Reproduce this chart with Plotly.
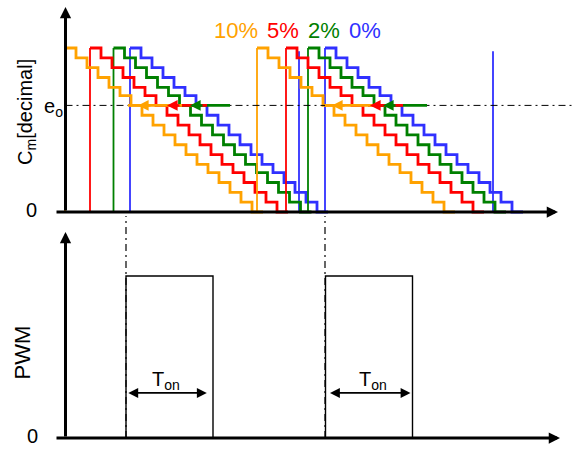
import plotly.graph_objects as go

# ---------------- data (time in arbitrary units, t = 0 at the vertical axis) ----------------
LEVELS = [1.00, 0.94, 0.88, 0.82, 0.76, 0.71, 0.65, 0.59, 0.53, 0.47,
          0.41, 0.35, 0.29, 0.24, 0.18, 0.12, 0.06, 0.00]          # quantised C_m levels
STEP_T = [0, 11, 22, 33, 44, 55, 66, 77, 88, 99,
          110, 121, 132, 143, 154, 165, 176, 187]                  # time of each level within a cycle
CYCLE_END = 198

SERIES = ["0%", "2%", "5%", "10%"]                                 # draw order (10% on top)
COLORS = {"10%": "#FFA200", "5%": "#FF0000", "2%": "#008000", "0%": "#3030FF"}
CYCLE_STARTS = {"10%": [0, 192], "5%": [25, 221], "2%": [48.5, 243], "0%": [65, 260]}
EXTRA_VERTICALS = {"0%": [234, 428]}
LABEL_T = {"10%": 170.5, "5%": 218, "2%": 259, "0%": 300}
LABEL_Y = 1.104

E_O = 0.65
# horizontal e_o arrows: (line start, line end, arrow-head tip)
EO_ARROWS = {
    "2%":  [(117, 165, 125), (310, 362, 318)],
    "5%":  [(100, 142, 102), (303, 338, 305)],
    "10%": [(63, 117, 73), (260, 310, 267)],
}

PWM_EDGES = [(61, 148), (260.5, 347.5)]       # (rising, falling) times
PWM_HIGH = 1.0
TON_Y = 0.278
TON_ARROWS = [(63.3, 143.3), (265, 347)]
TON_LABEL_T = [100.5, 307.5]
TON_LABEL_Y = 0.352
SYNC_T = [61, 260]
SYNC_TOP = 1.37

FONT = "Arial, Liberation Sans, sans-serif"

fig = go.Figure()

# ---------------- top panel: staircases ----------------
for s in SERIES:
    c = COLORS[s]
    vx, vy = [], []
    for t0 in CYCLE_STARTS[s] + EXTRA_VERTICALS.get(s, []):
        top = LEVELS[0] if t0 in CYCLE_STARTS[s] else 0.98
        vx += [t0, t0, None]
        vy += [0, top, None]
    fig.add_trace(go.Scatter(x=vx, y=vy, mode="lines", line=dict(color=c, width=1.8),
                             xaxis="x", yaxis="y", hoverinfo="skip"))
    sx, sy = [], []
    for t0 in CYCLE_STARTS[s]:
        sx += [t0 + dt for dt in STEP_T] + [t0 + CYCLE_END, None]
        sy += LEVELS + [LEVELS[-1], None]
    fig.add_trace(go.Scatter(x=sx, y=sy, mode="lines", line=dict(color=c, width=2.8, shape="hv"),
                             xaxis="x", yaxis="y", hoverinfo="skip"))

# e_o reference line
fig.add_trace(go.Scatter(x=[0.5, 510], y=[E_O, E_O], mode="lines",
                         line=dict(color="black", width=1, dash="7px,4px,2px,4px"),
                         xaxis="x", yaxis="y", hoverinfo="skip"))

annotations = []
for s in ["2%", "5%", "10%"]:
    for (a, b, h) in EO_ARROWS[s]:
        fig.add_trace(go.Scatter(x=[a, b], y=[E_O, E_O], mode="lines",
                                 line=dict(color=COLORS[s], width=2.6),
                                 xaxis="x", yaxis="y", hoverinfo="skip"))
        annotations.append(dict(x=h, y=E_O, ax=h + 14, ay=E_O, xref="x", yref="y",
                                axref="x", ayref="y", text="", showarrow=True,
                                arrowhead=2, arrowsize=0.85, arrowwidth=2.5,
                                arrowcolor=COLORS[s], standoff=0))

# series labels
for s in ["10%", "5%", "2%", "0%"]:
    annotations.append(dict(x=LABEL_T[s], y=LABEL_Y, xref="x", yref="y", text=s,
                            showarrow=False, font=dict(family=FONT, size=22, color=COLORS[s])))

# top axes with arrows
annotations.append(dict(x=0.5, y=1.25, ax=0.5, ay=0, xref="x", yref="y", axref="x", ayref="y",
                        text="", showarrow=True, arrowhead=2, arrowsize=0.75, arrowwidth=3,
                        arrowcolor="black", standoff=0))
annotations.append(dict(x=493, y=0, ax=-10, ay=0, xref="x", yref="y", axref="x", ayref="y",
                        text="", showarrow=True, arrowhead=2, arrowsize=0.75, arrowwidth=3,
                        arrowcolor="black", standoff=0))
annotations.append(dict(x=-38, y=0.61, xref="x", yref="y", text="C<sub>m</sub>[decimal]",
                        textangle=-90, showarrow=False, font=dict(family=FONT, size=20, color="black")))
annotations.append(dict(x=-12, y=0.64, xref="x", yref="y", text="e<sub>o</sub>",
                        showarrow=False, font=dict(family=FONT, size=20, color="black")))
annotations.append(dict(x=-34, y=0.012, xref="x", yref="y", text="0",
                        showarrow=False, font=dict(family=FONT, size=20, color="black")))

# ---------------- bottom panel: PWM ----------------
px_, py_ = [], []
for (r, f) in PWM_EDGES:
    px_ += [r, r, f, f, None]
    py_ += [0, PWM_HIGH, PWM_HIGH, 0, None]
fig.add_trace(go.Scatter(x=px_, y=py_, mode="lines", line=dict(color="black", width=1.4),
                         xaxis="x2", yaxis="y2", hoverinfo="skip"))
for t in SYNC_T:
    fig.add_trace(go.Scatter(x=[t, t], y=[0, SYNC_TOP], mode="lines",
                             line=dict(color="black", width=1.2, dash="7px,4px,2px,4px"),
                             xaxis="x2", yaxis="y2", hoverinfo="skip"))

for (a, b), lt in zip(TON_ARROWS, TON_LABEL_T):
    annotations.append(dict(x=a, y=TON_Y, ax=b, ay=TON_Y, xref="x2", yref="y2",
                            axref="x2", ayref="y2", text="", showarrow=True,
                            arrowhead=2, startarrowhead=2, arrowside="end+start",
                            arrowsize=1.1, startarrowsize=1.1, arrowwidth=1.8,
                            arrowcolor="black", standoff=0, startstandoff=0))
    annotations.append(dict(x=lt, y=TON_LABEL_Y, xref="x2", yref="y2", text="T<sub>on</sub>",
                            showarrow=False, font=dict(family=FONT, size=20, color="black")))

annotations.append(dict(x=0.5, y=1.272, ax=0.5, ay=0, xref="x2", yref="y2", axref="x2", ayref="y2",
                        text="", showarrow=True, arrowhead=2, arrowsize=0.75, arrowwidth=3,
                        arrowcolor="black", standoff=0))
annotations.append(dict(x=495, y=0, ax=-10, ay=0, xref="x2", yref="y2", axref="x2", ayref="y2",
                        text="", showarrow=True, arrowhead=2, arrowsize=0.75, arrowwidth=3,
                        arrowcolor="black", standoff=0))
annotations.append(dict(x=-42.5, y=0.525, xref="x2", yref="y2", text="PWM", textangle=-90,
                        showarrow=False, font=dict(family=FONT, size=22, color="black")))
annotations.append(dict(x=-33, y=0.012, xref="x2", yref="y2", text="0",
                        showarrow=False, font=dict(family=FONT, size=20, color="black")))

hidden = dict(visible=False, showgrid=False, zeroline=False, fixedrange=True)
fig.update_layout(
    width=580, height=450, margin=dict(l=0, r=0, t=0, b=0),
    paper_bgcolor="white", plot_bgcolor="rgba(0,0,0,0)", showlegend=False,
    xaxis=dict(domain=[0, 1], range=[-65, 515], anchor="y", **hidden),
    yaxis=dict(domain=[0, 1], range=[-1.4512, 1.2927], anchor="x", **hidden),
    xaxis2=dict(domain=[0, 1], range=[-65, 515], anchor="y2", **hidden),
    yaxis2=dict(domain=[0, 1], range=[-0.0741, 2.7037], anchor="x2", **hidden),
    annotations=annotations,
)

fig.write_html("out.html", config={"displayModeBar": False},
               post_script="document.body.style.margin='0';document.body.style.overflow='hidden';")
